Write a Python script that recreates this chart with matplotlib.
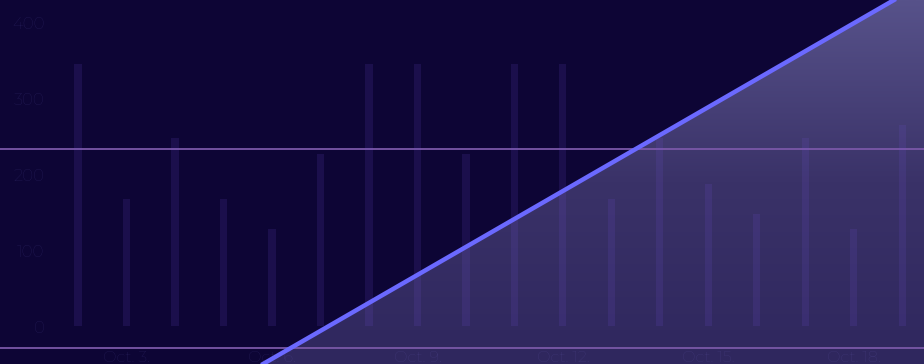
import numpy as np
import matplotlib
matplotlib.use("Agg")
import matplotlib.pyplot as plt
from matplotlib.colors import LinearSegmentedColormap

plt.rcParams.update({"font.family": ["Montserrat", "Lato", "DejaVu Sans"], "font.size": 11})

# daily bars, Oct 2 .. Oct 19
bar_days = list(range(2, 20))
bar_vals = [345, 167, 247, 167, 128, 226, 345, 345, 226, 345, 345, 167, 247, 187, 148, 247, 128, 265]

# trend line (two end points)
line_days = [5.0, 20.0]
line_vals = [-80, 472]

# threshold lines
hlines = [233, -29]

xtick_days = [3, 6, 9, 12, 15, 18]
xtick_labels = ["Oct. 3.", "Oct. 6.", "Oct. 9.", "Oct. 12.", "Oct. 15.", "Oct. 18."]
ytick_vals = [0, 100, 200, 300, 400]

bg = "#0d0535"
txt = (0.55, 0.5, 0.92, 0.2)

fig = plt.figure(figsize=(9.24, 3.64), dpi=100, facecolor=bg)
ax = fig.add_axes([0, 0, 1, 1])
ax.set_facecolor(bg)
x0, x1 = 0.39, 19.45
y0, y1 = -50, 429
ax.set_xlim(x0, x1)
ax.set_ylim(y0, y1)

# bars
bars = ax.bar(bar_days, bar_vals, width=0.15, color=(0.45, 0.32, 0.85), alpha=0.14,
              zorder=4, linewidth=0)

# gradient area under the trend line
poly = ax.fill_between(line_days, line_vals, y0 - 10, color="none", zorder=2)
cmap = LinearSegmentedColormap.from_list("area", ["#2f275e", "#3a3268", "#57528a"])
grad = np.linspace(0, 1, 256).reshape(-1, 1)
im = ax.imshow(grad, cmap=cmap, origin="lower", aspect="auto",
               extent=[x0, x1, y0, y1], zorder=2)
im.set_clip_path(poly.get_paths()[0], transform=ax.transData)

for h in hlines:
    ax.axhline(h, color="#7a58a8", lw=1.3, zorder=3)

ax.plot(line_days, line_vals, color="#6b69ff", lw=3.2, zorder=5, solid_capstyle="butt")

ax.set_xticks(xtick_days)
ax.set_xticklabels(xtick_labels)
ax.set_yticks(ytick_vals)
ax.tick_params(axis="x", length=0, pad=-9.5, labelcolor=txt, labelsize=11.5)
ax.tick_params(axis="y", length=0, pad=-32, labelcolor=txt, labelsize=12)
ax.xaxis.set_zorder(4.5)
ax.yaxis.set_zorder(4.5)
for s in ax.spines.values():
    s.set_visible(False)

fig.savefig("out.png", dpi=100, facecolor=bg)
